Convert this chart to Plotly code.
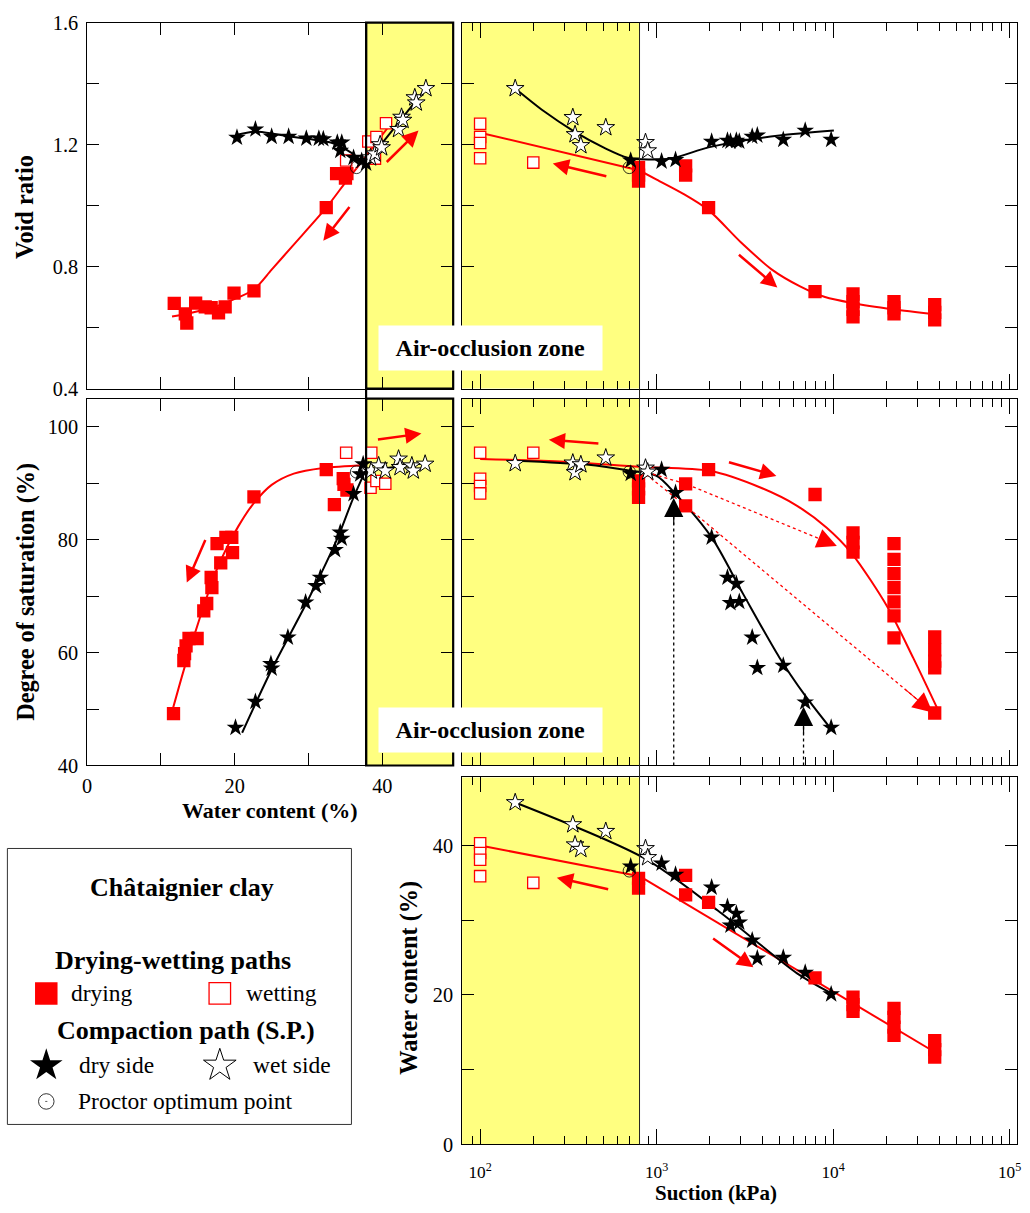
import numpy as np
import plotly.graph_objects as go

W, H = 1030, 1213
# empirical correction between figure pixels and the photographed page
CAL_SX, CAL_OX = 0.993, 5.6
CAL_SY, CAL_OY = 0.982, 10.4
SERIF = "Liberation Serif"
RED = "#ff0000"
YELLOW = "#ffff80"

# ---------------- axis ranges ----------------
W_RANGE = [0, 49.6]
E_RANGE = [0.4, 1.6]
SR_RANGE = [40, 105]
WC_RANGE = [0, 49.1]
LOGS_RANGE = [1.898, 5.04]
AIR_OCC_W = 37.8   # water content bounding the air-occlusion zone (%)
AIR_OCC_S = 800    # suction bounding the air-occlusion zone (kPa)

# ---------------- data : water-content panels ----------------
# top-left : void ratio vs water content
TL_DRY_W = [11.8, 13.3, 13.5, 14.7, 16.0, 16.8, 17.8, 18.7, 19.9, 22.6, 32.4, 33.8, 35.0, 35.2]
TL_DRY_E = [0.679, 0.645, 0.615, 0.680, 0.668, 0.665, 0.648, 0.668, 0.713, 0.720, 0.993, 1.105, 1.090, 1.105]
TL_WET_W = [35.1, 38.1, 39.2, 39.0, 40.5]
TL_WET_E = [1.148, 1.210, 1.225, 1.154, 1.270]
TL_DRYSIDE_W = [20.3, 22.8, 25.0, 27.3, 29.7, 31.4, 32.0, 33.9, 34.5, 34.3, 36.1, 37.2, 37.8]
TL_DRYSIDE_E = [1.223, 1.250, 1.226, 1.226, 1.220, 1.220, 1.218, 1.207, 1.207, 1.180, 1.157, 1.147, 1.138]
TL_WETSIDE_W = [38.4, 39.0, 39.7, 39.9, 42.2, 42.6, 42.8, 44.4, 44.6, 45.9]
TL_WETSIDE_E = [1.157, 1.170, 1.200, 1.190, 1.250, 1.290, 1.280, 1.354, 1.337, 1.384]
# fitted curves
TL_DRYFIT_W = [11.5, 14, 17, 19.6, 22.6, 25, 28, 32.4, 35, 36.5]
TL_DRYFIT_E = [0.636, 0.648, 0.666, 0.690, 0.725, 0.790, 0.872, 0.993, 1.076, 1.122]
TL_WETFIT_W = [36.5, 41.2]
TL_WETFIT_E = [1.122, 1.270]
TL_DRYSIDEFIT_W = [20.3, 22.8, 26, 30, 33, 35, 36.5, 37.6]
TL_DRYSIDEFIT_E = [1.232, 1.243, 1.232, 1.218, 1.207, 1.185, 1.160, 1.133]
TL_WETSIDEFIT_W = [37.6, 45.9]
TL_WETSIDEFIT_E = [1.133, 1.384]

# middle-left : degree of saturation vs water content
ML_DRY_W = [11.7, 13.1, 13.2, 13.4, 13.8, 14.9, 15.8, 16.2, 16.8, 16.9, 17.6, 18.1, 18.8, 19.6, 19.7, 22.6, 32.4, 33.5, 34.7, 34.8, 35.2]
ML_DRY_SR = [49.2, 58.6, 59.8, 61.2, 62.5, 62.5, 67.4, 68.7, 73.3, 71.5, 79.3, 75.9, 80.4, 80.4, 77.7, 87.6, 92.4, 86.2, 90.8, 89.8, 88.8]
ML_WET_W = [35.1, 38.5, 38.4, 39.2, 40.4]
ML_WET_SR = [95.4, 95.4, 89.2, 90.4, 89.9]
ML_DRYSIDE_W = [20.1, 22.8, 24.9, 25.0, 27.2, 29.6, 31.0, 31.6, 33.6, 34.5, 34.3, 36.1, 37.0, 37.4]
ML_DRYSIDE_SR = [46.7, 51.3, 58.0, 57.2, 62.7, 68.9, 71.8, 73.3, 78.2, 80.2, 81.3, 88.1, 91.6, 93.4]
ML_WETSIDE_W = [38.5, 39.5, 40.4, 42.2, 42.4, 44.0, 44.2, 45.8]
ML_WETSIDE_SR = [92.2, 93.1, 92.2, 94.3, 92.8, 93.1, 92.2, 93.4]
ML_DRYFIT_W = [11.6, 13, 14.5, 16, 17.5, 19, 20.5, 22.3, 25, 28, 32, 37.7]
ML_DRYFIT_SR = [50, 56.5, 63, 69, 74.5, 78.8, 82.4, 86, 89.7, 91.7, 92.7, 93.2]
ML_DRYSIDEFIT_W = [21, 25, 30, 34, 36, 37.7]
ML_DRYSIDEFIT_SR = [45.8, 57, 69.5, 80.5, 87.2, 92.2]
ML_WETSIDEFIT_W = [37.7, 46]
ML_WETSIDEFIT_SR = [92.2, 93.6]

# ---------------- data : suction panels ----------------
DRYSIDE_S = [713, 1067, 1280, 2050, 2520, 2830, 2620, 2940, 3480, 3720, 5220, 6950, 9750]
DRYSIDE_E = [1.148, 1.145, 1.150, 1.210, 1.213, 1.213, 1.210, 1.210, 1.226, 1.230, 1.216, 1.246, 1.216]
DRYSIDE_SR = [91.7, 92.4, 88.3, 80.4, 73.3, 72.2, 68.8, 69.0, 62.7, 57.3, 57.7, 51.2, 46.7]
DRYSIDE_WC = [37.2, 37.6, 36.1, 34.4, 31.8, 30.9, 29.3, 29.7, 27.3, 24.9, 25.0, 23.0, 20.1]

WETSIDE_S = [158, 335, 345, 372, 515, 865, 890]
WETSIDE_E = [1.384, 1.289, 1.233, 1.197, 1.256, 1.207, 1.180]
WETSIDE_SR = [93.5, 93.6, 91.9, 93.3, 94.5, 92.7, 92.0]
WETSIDE_WC = [45.75, 42.8, 40.1, 39.5, 41.9, 39.6, 38.4]

WETPATH_S = [100, 100, 100, 100, 200]
WETPATH_E = [1.268, 1.225, 1.205, 1.155, 1.141]
WETPATH_SR = [95.4, 90.8, 89.5, 88.2, 95.4]
WETPATH_WC = [40.3, 39.0, 38.1, 35.9, 35.0]

TR_DRY_S = [790, 790, 790, 1460, 1460, 1970, 7900, 12970, 12970, 12970, 12970, 22130, 22130, 22130, 37650, 37650, 37650]
TR_DRY_E = [1.125, 1.100, 1.080, 1.130, 1.100, 0.993, 0.718, 0.710, 0.685, 0.660, 0.635, 0.685, 0.665, 0.645, 0.675, 0.650, 0.625]
MR_DRY_S = [790, 790, 790, 1460, 1460, 1970, 7900, 12970, 12970, 12970, 22130, 22130, 22130, 22130, 22130, 22130, 22130, 37650, 37650, 37650, 37650, 37650]
MR_DRY_SR = [90.4, 89.0, 87.5, 89.9, 86.0, 92.4, 88.0, 81.2, 79.5, 77.8, 79.3, 76.5, 74.0, 71.5, 69.0, 66.5, 62.6, 62.8, 60.5, 58.5, 57.3, 49.3]
BR_DRY_S = [790, 790, 1460, 1460, 1970, 7900, 12970, 12970, 12970, 22130, 22130, 22130, 22130, 37650, 37650, 37650]
BR_DRY_WC = [35.6, 34.3, 36.0, 33.4, 32.4, 22.3, 19.7, 18.7, 17.8, 18.2, 17.0, 15.7, 14.6, 13.9, 12.7, 11.7]

# fitted curves (suction panels)
TR_WETFIT_S = [100, 800]
TR_WETFIT_E = [1.239, 1.115]
TR_DRYFIT_S = [800, 1000, 1400, 1970, 3000, 4500, 6500, 9000, 13000, 22000, 38000]
TR_DRYFIT_E = [1.115, 1.085, 1.040, 0.985, 0.880, 0.790, 0.735, 0.700, 0.680, 0.660, 0.643]
TR_COMPFIT_S = [158, 229, 335, 515, 685, 820, 1200, 1940, 3100, 4970, 10100]
TR_COMPFIT_E = [1.384, 1.310, 1.246, 1.187, 1.157, 1.152, 1.154, 1.190, 1.213, 1.230, 1.246]

MR_DRYFIT_S = [100, 300, 800, 2000, 3900, 6250, 9200, 12800, 20400, 28400, 39500]
MR_DRYFIT_SR = [94.3, 93.8, 92.9, 92.2, 89.2, 86.0, 82.1, 77.5, 68.0, 59.1, 49.7]
MR_COMPFIT_S = [158, 400, 713, 1000, 1280, 2050, 3090, 4970, 6900, 9600]
MR_COMPFIT_SR = [94.0, 93.3, 92.2, 91.3, 88.1, 80.4, 70.4, 59.1, 52.5, 46.7]
MR_PATH1_S = [820, 1460, 10500]
MR_PATH1_SR = [92.2, 89.9, 78.9]
MR_PATH2_S = [820, 1460, 36700]
MR_PATH2_SR = [92.2, 86.0, 49.4]
MR_MARK_S = [1250, 6800]        # suctions marked by black arrows
MR_MARK_SR = [87.4, 50.4]

BR_COMPFIT_S = [158, 850, 2220, 6250, 9800]
BR_COMPFIT_WC = [45.75, 38.3, 31.3, 22.9, 20.2]
BR_WETFIT_S = [100, 800]
BR_WETFIT_WC = [40.0, 35.9]
BR_DRYFIT_S = [800, 38000]
BR_DRYFIT_WC = [35.9, 12.3]

# Proctor optimum point
OPT_W, OPT_E, OPT_SR, OPT_S, OPT_WC = 36.5, 1.125, 92.0, 700, 36.6

# direction arrows (tail -> head)
TL_ARROWS = [((35.7, 1.00), (32.0, 0.885)), ((40.4, 1.138), (44.9, 1.246))]
ML_ARROWS = [((16.1, 80.2), (13.5, 72.4)), ((39.2, 97.7), (45.3, 98.8))]
TR_ARROWS = [((529, 1.095), (258, 1.138)), ((2870, 0.843), (4830, 0.731))]
MR_ARROWS = [((477, 97.0), (245, 97.7)), ((2520, 93.8), (4770, 91.3))]
BR_ARROWS = [((542, 34.1), (272, 35.7)), ((2050, 27.7), (3530, 23.7))]

# ---------------- layout geometry (target pixels -> paper) ----------------
def pxx(p):
    return ((p - CAL_OX) / CAL_SX) / W

def pxy(p):
    return 1 - ((p - CAL_OY) / CAL_SY) / H

LEFT_DOM = [pxx(88), pxx(455)]
RIGHT_DOM = [pxx(464), pxx(1020)]
TOP_DOM = [pxy(388), pxy(22)]
MID_DOM = [pxy(765), pxy(398)]
BOT_DOM = [pxy(1144), pxy(777)]
K = 1.0 / CAL_SY   # size compensation


def lin_to_paper(v, rng, dom):
    return dom[0] + (v - rng[0]) / (rng[1] - rng[0]) * (dom[1] - dom[0])


fig = go.Figure()

STY = {
    "dry": dict(symbol="square", size=13.3, color=RED, line=dict(width=0)),
    "wet": dict(symbol="square", size=11.3, color="white", line=dict(color=RED, width=1.3)),
    "star": dict(symbol="star", size=13.3, color="black", line=dict(width=0)),
    "ostar": dict(symbol="star", size=13.3, color="white", line=dict(color="black", width=1)),
    "opt": dict(symbol="circle-open-dot", size=12.3, color="black", line=dict(width=0.8)),
}


def markers(x, y, xa, ya, kind, size=None):
    m = dict(STY[kind])
    if size:
        m["size"] = size
    fig.add_trace(go.Scatter(x=x, y=y, xaxis=xa, yaxis=ya, mode="markers", marker=m,
                             showlegend=False, hoverinfo="skip"))


def curve(x, y, xa, ya, color, width=2, dash="solid", shape="spline"):
    fig.add_trace(go.Scatter(x=x, y=y, xaxis=xa, yaxis=ya, mode="lines",
                             line=dict(color=color, width=width, dash=dash, shape=shape, smoothing=0.8),
                             showlegend=False, hoverinfo="skip"))


def arrow(xa, ya, tail, head, logx=False, color=RED, width=2.5, size=1.3):
    fx = (lambda v: float(np.log10(v))) if logx else (lambda v: v)
    fig.add_annotation(x=fx(head[0]), y=head[1], ax=fx(tail[0]), ay=tail[1],
                       xref=xa, yref=ya, axref=xa, ayref=ya, text="", showarrow=True,
                       arrowhead=2, arrowsize=size, arrowwidth=width, arrowcolor=color)


# ---- top-left ----
curve(TL_DRYFIT_W, TL_DRYFIT_E, "x", "y", RED)
curve(TL_WETFIT_W, TL_WETFIT_E, "x", "y", RED)
curve(TL_DRYSIDEFIT_W, TL_DRYSIDEFIT_E, "x", "y", "black")
curve(TL_WETSIDEFIT_W, TL_WETSIDEFIT_E, "x", "y", "black")
markers(TL_DRY_W, TL_DRY_E, "x", "y", "dry")
markers(TL_WET_W, TL_WET_E, "x", "y", "wet")
markers(TL_DRYSIDE_W, TL_DRYSIDE_E, "x", "y", "star")
markers(TL_WETSIDE_W, TL_WETSIDE_E, "x", "y", "ostar")
markers([OPT_W], [OPT_E], "x", "y", "opt")

# ---- top-right ----
curve(TR_WETFIT_S, TR_WETFIT_E, "x2", "y2", RED, shape="linear")
curve(TR_DRYFIT_S, TR_DRYFIT_E, "x2", "y2", RED)
curve(TR_COMPFIT_S, TR_COMPFIT_E, "x2", "y2", "black")
markers(TR_DRY_S, TR_DRY_E, "x2", "y2", "dry")
markers(WETPATH_S, WETPATH_E, "x2", "y2", "wet")
markers(DRYSIDE_S, DRYSIDE_E, "x2", "y2", "star")
markers(WETSIDE_S, WETSIDE_E, "x2", "y2", "ostar")
markers([OPT_S], [OPT_E], "x2", "y2", "opt")

# ---- middle-left ----
curve(ML_DRYFIT_W, ML_DRYFIT_SR, "x3", "y3", RED)
curve(ML_DRYSIDEFIT_W, ML_DRYSIDEFIT_SR, "x3", "y3", "black")
curve(ML_WETSIDEFIT_W, ML_WETSIDEFIT_SR, "x3", "y3", "black")
markers(ML_DRY_W, ML_DRY_SR, "x3", "y3", "dry")
markers(ML_WET_W, ML_WET_SR, "x3", "y3", "wet")
markers(ML_DRYSIDE_W, ML_DRYSIDE_SR, "x3", "y3", "star")
markers(ML_WETSIDE_W, ML_WETSIDE_SR, "x3", "y3", "ostar")
markers([OPT_W], [OPT_SR], "x3", "y3", "opt")

# ---- middle-right ----
curve(MR_DRYFIT_S, MR_DRYFIT_SR, "x4", "y4", RED)
curve(MR_COMPFIT_S, MR_COMPFIT_SR, "x4", "y4", "black")
curve(MR_PATH1_S, MR_PATH1_SR, "x4", "y4", RED, width=1.3, dash="dot", shape="linear")
curve(MR_PATH2_S, MR_PATH2_SR, "x4", "y4", RED, width=1.3, dash="dot", shape="linear")
for s, sr in zip(MR_MARK_S, MR_MARK_SR):
    curve([s, s], [SR_RANGE[0], sr - 3], "x4", "y4", "black", width=1.3, dash="dot", shape="linear")
    arrow("x4", "y4", (s, sr - 5), (s, sr), logx=True, color="black", width=1.2, size=3.2)
markers(MR_DRY_S, MR_DRY_SR, "x4", "y4", "dry")
markers(WETPATH_S, WETPATH_SR, "x4", "y4", "wet")
markers(DRYSIDE_S, DRYSIDE_SR, "x4", "y4", "star")
markers(WETSIDE_S, WETSIDE_SR, "x4", "y4", "ostar")
markers([OPT_S], [OPT_SR], "x4", "y4", "opt")
# arrow heads at the end of the dotted paths
for ps, psr in ((MR_PATH1_S, MR_PATH1_SR), (MR_PATH2_S, MR_PATH2_SR)):
    ls0, ls1 = np.log10(ps[-2]), np.log10(ps[-1])
    tail_s = 10 ** (ls1 - 0.12 * (ls1 - ls0))
    tail_sr = psr[-1] - 0.12 * (psr[-1] - psr[-2])
    arrow("x4", "y4", (tail_s, tail_sr), (ps[-1], psr[-1]), logx=True, width=1.2, size=3.3)

# ---- bottom-right ----
curve(BR_WETFIT_S, BR_WETFIT_WC, "x5", "y5", RED, shape="linear")
curve(BR_DRYFIT_S, BR_DRYFIT_WC, "x5", "y5", RED, shape="linear")
curve(BR_COMPFIT_S, BR_COMPFIT_WC, "x5", "y5", "black")
markers(BR_DRY_S, BR_DRY_WC, "x5", "y5", "dry")
markers(WETPATH_S, WETPATH_WC, "x5", "y5", "wet")
markers(DRYSIDE_S, DRYSIDE_WC, "x5", "y5", "star")
markers(WETSIDE_S, WETSIDE_WC, "x5", "y5", "ostar")
markers([OPT_S], [OPT_WC], "x5", "y5", "opt")

# ---- direction arrows ----
for t, h in TL_ARROWS:
    arrow("x", "y", t, h)
for t, h in ML_ARROWS:
    arrow("x3", "y3", t, h)
for t, h in TR_ARROWS:
    arrow("x2", "y2", t, h, logx=True)
for t, h in MR_ARROWS:
    arrow("x4", "y4", t, h, logx=True)
for t, h in BR_ARROWS:
    arrow("x5", "y5", t, h, logx=True)

# ---- legend (pixel axis) ----
LEG_X = [8, 353]
LEG_Y = [848, 1124]
markers([47], [993], "x6", "y6", "dry", size=22.5)
markers([221], [993], "x6", "y6", "wet", size=21.5)
markers([47], [1065], "x6", "y6", "star", size=24.5)
markers([221], [1065], "x6", "y6", "ostar", size=24.5)
markers([47], [1101], "x6", "y6", "opt", size=15.5)

# ---------------- axes ----------------
FONT = dict(family=SERIF, size=20.3, color="black")
BASE = dict(showline=True, linecolor="black", linewidth=1, mirror="allticks", ticks="inside",
            ticklen=12, tickwidth=1, tickcolor="black", showgrid=False, zeroline=False,
            tickfont=FONT)

def lin_axis(dom, rng, anchor, tick0, dtick, mdtick, labels, standoff=0):
    d = dict(BASE)
    d.update(domain=dom, range=rng, anchor=anchor, tickmode="linear", tick0=tick0, dtick=dtick,
             showticklabels=labels, ticklabelstandoff=standoff,
             minor=dict(tickmode="linear", tick0=tick0, dtick=mdtick, ticks="inside", ticklen=12,
                        tickcolor="black", tickwidth=1, showgrid=False))
    return d

MAJ = [100, 1000, 10000, 100000]
MIN = [m * 10 ** k for k in range(1, 5) for m in range(2, 10)]

def log_axis(dom, anchor, labels):
    d = dict(BASE)
    d.update(domain=dom, range=LOGS_RANGE, type="log", anchor=anchor, tickmode="array",
             tickvals=MAJ, ticktext=["10<sup>%d</sup>" % int(np.log10(v)) for v in MAJ],
             ticklen=15, showticklabels=labels, ticklabelstandoff=12,
             tickfont=dict(family=SERIF, size=17.3, color="black"),
             minor=dict(tickmode="array", tickvals=MIN, ticks="inside", ticklen=8,
                        tickcolor="black", tickwidth=1, showgrid=False))
    return d

fig.update_layout(
    width=W, height=H, margin=dict(l=0, r=0, t=0, b=0),
    paper_bgcolor="white", plot_bgcolor="rgba(0,0,0,0)", showlegend=False,
    font=dict(family=SERIF, color="black"),
    xaxis=lin_axis(LEFT_DOM, W_RANGE, "y", 0, 20, 10, False),
    yaxis=lin_axis(TOP_DOM, E_RANGE, "x", 0.4, 0.4, 0.2, True, standoff=4),
    xaxis2=log_axis(RIGHT_DOM, "y2", False),
    yaxis2=lin_axis(TOP_DOM, E_RANGE, "x2", 0.4, 0.4, 0.2, False),
    xaxis3=lin_axis(LEFT_DOM, W_RANGE, "y3", 0, 20, 10, True, standoff=2),
    yaxis3=lin_axis(MID_DOM, SR_RANGE, "x3", 40, 20, 10, True, standoff=4),
    xaxis4=log_axis(RIGHT_DOM, "y4", False),
    yaxis4=lin_axis(MID_DOM, SR_RANGE, "x4", 40, 20, 10, False),
    xaxis5=log_axis(RIGHT_DOM, "y5", True),
    yaxis5=lin_axis(BOT_DOM, WC_RANGE, "x5", 0, 20, 10, True, standoff=4),
    xaxis6=dict(domain=[pxx(LEG_X[0]), pxx(LEG_X[1])], range=LEG_X, visible=False, anchor="y6"),
    yaxis6=dict(domain=[pxy(LEG_Y[1]), pxy(LEG_Y[0])], range=[LEG_Y[1], LEG_Y[0]], visible=False, anchor="x6"),
)

# ---------------- air-occlusion zones ----------------
xl = lin_to_paper(AIR_OCC_W, W_RANGE, LEFT_DOM)
xr = lin_to_paper(np.log10(AIR_OCC_S), LOGS_RANGE, RIGHT_DOM)
shapes = []
for dom in (TOP_DOM, MID_DOM):
    shapes.append(dict(type="rect", xref="paper", yref="paper", x0=xl, x1=LEFT_DOM[1], y0=dom[0], y1=dom[1],
                       fillcolor=YELLOW, line=dict(color="black", width=2.2), layer="below"))
for dom in (TOP_DOM, MID_DOM, BOT_DOM):
    shapes.append(dict(type="rect", xref="paper", yref="paper", x0=RIGHT_DOM[0], x1=xr, y0=dom[0], y1=dom[1],
                       fillcolor=YELLOW, line=dict(width=0), layer="below"))
shapes.append(dict(type="line", xref="paper", yref="paper", x0=xl, x1=xl, y0=MID_DOM[0], y1=TOP_DOM[1],
                   line=dict(color="black", width=2.2)))
shapes.append(dict(type="line", xref="paper", yref="paper", x0=xr, x1=xr, y0=BOT_DOM[0], y1=TOP_DOM[1],
                   line=dict(color="#222222", width=1)))
# legend frame
shapes.append(dict(type="rect", xref="paper", yref="paper", x0=pxx(LEG_X[0]), x1=pxx(LEG_X[1]),
                   y0=pxy(LEG_Y[1]), y1=pxy(LEG_Y[0]), line=dict(color="#333333", width=1)))
fig.update_layout(shapes=shapes)


def label(text, xpx, ypx, size, bold=False, angle=0, xanchor="center", **kw):
    fig.add_annotation(text=("<b>%s</b>" % text) if bold else text, x=pxx(xpx), y=pxy(ypx),
                       xref="paper", yref="paper", showarrow=False, textangle=angle,
                       xanchor=xanchor, yanchor="middle",
                       font=dict(family=SERIF, size=size, color="black"), **kw)


for ypx in (347, 730):
    label("Air-occlusion zone", 492, ypx, 24, bold=True, bgcolor="white",
          width=221 / CAL_SX, height=43 / CAL_SY, borderpad=0)

label("Void ratio", 25, 206, 24.3, bold=True, angle=-90)
label("Degree of saturation (%)", 26, 591, 24.3, bold=True, angle=-90)
label("Water content (%)", 271, 810, 22, bold=True)
label("Water content (%)", 411, 977, 24.3, bold=True, angle=-90)
label("Suction (kPa)", 719, 1193, 21, bold=True)

label("Châtaignier clay", 183, 887, 26, bold=True)
label("Drying-wetting paths", 174, 960, 26, bold=True)
label("drying", 70, 993, 23.5, xanchor="left")
label("wetting", 245, 993, 23.5, xanchor="left")
label("Compaction path (S.P.)", 187, 1030, 26, bold=True)
label("dry side", 78, 1065, 23.5, xanchor="left")
label("wet side", 252, 1065, 23.5, xanchor="left")
label("Proctor optimum point", 77, 1101, 23.5, xanchor="left")

fig.write_html("out.html")
